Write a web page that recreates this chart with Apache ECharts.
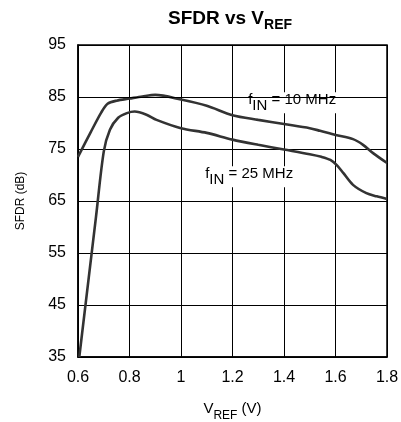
<!DOCTYPE html>
<html>
<head>
<meta charset="utf-8">
<script src="https://cdn.jsdelivr.net/npm/echarts@6/dist/echarts.min.js"></script>
<style>
html,body{margin:0;padding:0;background:#fff;}
#chart{width:401px;height:422px;}
</style>
</head>
<body>
<div id="chart"></div>
<script>
// Data
var vref10 = [0.6, 0.65, 0.69, 0.715, 0.75, 0.8, 0.85, 0.9, 1.0, 1.1, 1.2, 1.3, 1.4, 1.5, 1.54, 1.6, 1.668, 1.707, 1.746, 1.8];
var sfdr10 = [73.5, 78.3, 82.0, 83.7, 84.3, 84.7, 85.1, 85.4, 84.5, 83.3, 81.5, 80.6, 79.8, 79.0, 78.5, 77.7, 76.9, 75.8, 74.2, 72.3];
var vref25 = [0.605, 0.67, 0.70, 0.724, 0.756, 0.79, 0.82, 0.866, 0.905, 1.0, 1.1, 1.2, 1.3, 1.4, 1.5, 1.545, 1.58, 1.605, 1.63, 1.668, 1.72, 1.76, 1.8];
var sfdr25 = [35, 62, 74.5, 78.7, 81.0, 81.9, 82.2, 81.6, 80.6, 79.0, 78.1, 76.8, 75.8, 74.9, 74.0, 73.5, 72.9, 71.9, 70.4, 68.1, 66.5, 65.9, 65.4];
var xTicks = [0.6, 0.8, 1.0, 1.2, 1.4, 1.6, 1.8];
var yTicks = [35, 45, 55, 65, 75, 85, 95];
var labelsText = ['10 MHz', '25 MHz'];
var labelAnchor = [[1.261, 85.9], [1.094, 71.7]];

function pairs(xs, ys) { return xs.map(function (x, i) { return [x, ys[i]]; }); }

var FONT = '"Liberation Sans", Arial, sans-serif';
var chart = echarts.init(document.getElementById('chart'), null, {renderer: 'canvas'});

var option = {
  backgroundColor: '#fff',
  animation: false,
  title: {
    text: '{b|SFDR vs V}{s|REF}',
    left: 230, top: 9, textAlign: 'center', padding: 0,
    textStyle: {
      rich: {
        b: {fontFamily: FONT, fontWeight: 'bold', fontSize: 19, color: '#000', verticalAlign: 'top'},
        s: {fontFamily: FONT, fontWeight: 'bold', fontSize: 14, color: '#000', verticalAlign: 'top', padding: [9, 0, 0, 0]}
      }
    }
  },
  grid: {left: 78, right: 14, top: 45, bottom: 65, show: true, borderColor: '#000', borderWidth: 1.5,
    backgroundColor: 'transparent', containLabel: false, outerBoundsMode: 'none'},
  xAxis: {
    type: 'value', min: 0.6, max: 1.8, interval: 0.2,
    name: '{n|V}{s|REF}{n| (V)}', nameLocation: 'middle', nameGap: 44,
    nameTextStyle: {
      rich: {
        n: {fontFamily: FONT, fontSize: 15, color: '#000', verticalAlign: 'top'},
        s: {fontFamily: FONT, fontSize: 12, color: '#000', verticalAlign: 'top', padding: [9, 0, 0, 0]}
      }
    },
    axisLine: {show: true, lineStyle: {color: '#000', width: 1.5}},
    axisTick: {show: false},
    axisLabel: {fontFamily: FONT, fontSize: 16, color: '#000', margin: 13,
      formatter: function (v) { var r = Math.round(v * 10) / 10; return xTicks.indexOf(r) >= 0 ? String(r) : ''; }},
    splitLine: {show: true, lineStyle: {color: '#000', width: 1}}
  },
  yAxis: {
    type: 'value', min: 35, max: 95, interval: 10,
    name: 'SFDR (dB)', nameLocation: 'middle', nameGap: 51,
    nameTextStyle: {fontFamily: FONT, fontSize: 12, color: '#000'},
    axisLine: {show: true, lineStyle: {color: '#000', width: 1.5}},
    axisTick: {show: false},
    axisLabel: {fontFamily: FONT, fontSize: 16, color: '#000', margin: 12,
      formatter: function (v) { return yTicks.indexOf(v) >= 0 ? String(v) : ''; }},
    splitLine: {show: true, lineStyle: {color: '#000', width: 1}}
  },
  series: [
    {type: 'line', data: pairs(vref10, sfdr10), smooth: 0.3, showSymbol: false, clip: true,
      lineStyle: {color: '#333', width: 2.6}, z: 3,
      markLine: {silent: true, symbol: 'none', label: {show: false},
        lineStyle: {color: '#000', width: 1, type: 'solid'},
        data: [{yAxis: yTicks[5]}]}},
    {type: 'line', data: pairs(vref25, sfdr25), smooth: 0.3, showSymbol: false, clip: true,
      lineStyle: {color: '#333', width: 2.6}, z: 3}
  ]
};
chart.setOption(option);

var rich = {
  f: {fontFamily: FONT, fontSize: 15, color: '#000', verticalAlign: 'top'},
  s: {fontFamily: FONT, fontSize: 15, color: '#000', verticalAlign: 'top', padding: [6, 0, 0, 0]}
};
var gr = labelsText.map(function (t, i) {
  var p = chart.convertToPixel({gridIndex: 0}, labelAnchor[i]);
  return {
    type: 'text', x: p[0], y: p[1], z: 1, zlevel: 0,
    style: {text: '{f|f}{s|IN}{f| = ' + t + '}', rich: rich, verticalAlign: 'top', align: 'left',
      backgroundColor: '#fff'}
  };
});
chart.setOption({graphic: gr});
</script>
</body>
</html>
